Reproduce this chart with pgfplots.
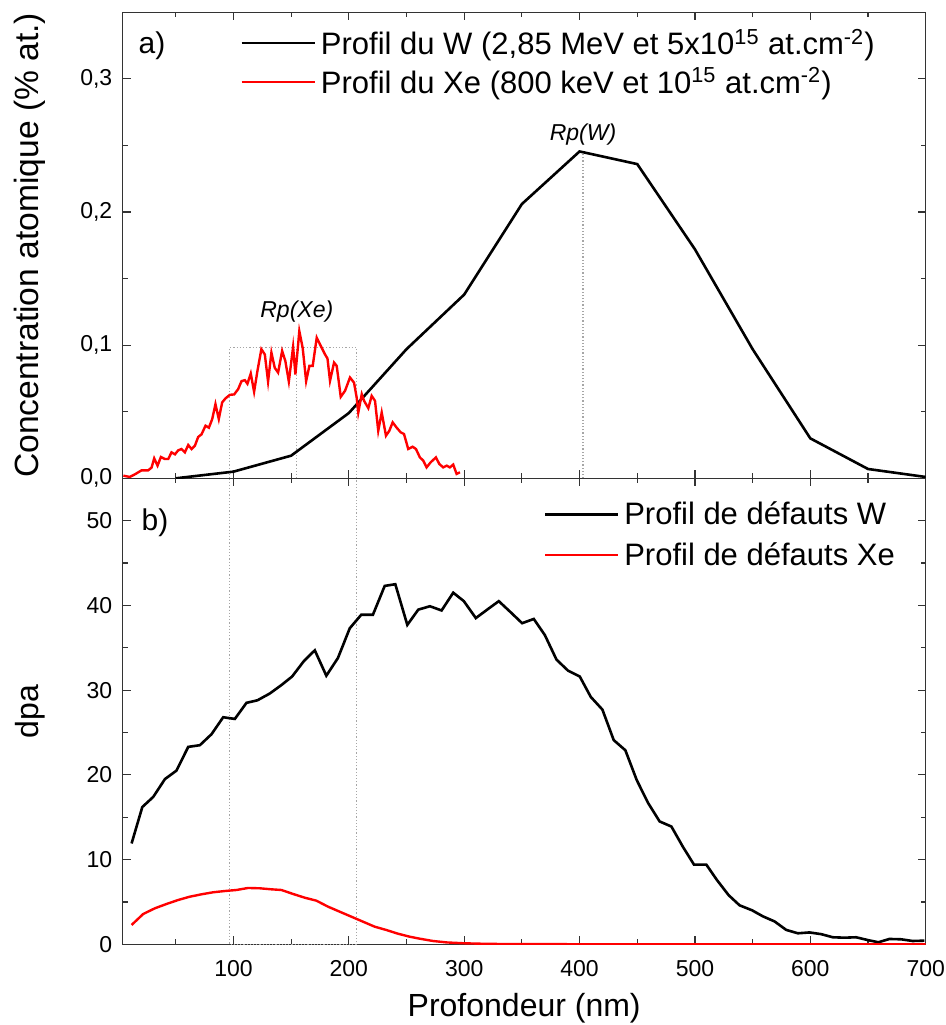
\documentclass[border=0pt]{standalone}
\usepackage{fontspec}
\setmainfont{Liberation Sans}
\usepackage{pgfplots}
\pgfplotsset{compat=1.18}
\begin{document}
\begin{tikzpicture}
\useasboundingbox (-61.35pt,-40.35pt) rectangle (411.65pt,472.15pt);
\pgfplotsset{
 every axis/.append style={
  scale only axis, width=401.5pt, height=233pt,
  xmin=4, xmax=700,
  tick align=inside,
  axis line style={line width=0.7pt, black!80},
  every tick/.style={black!80, line width=0.6pt},
  major tick length=4pt, minor tick length=2.5pt,
  xtick={100,200,...,700}, minor xtick={50,150,...,650},
  tick label style={font=\fontsize{11.5}{13}\selectfont},
  /pgf/number format/assume math mode=true,
  label style={font=\fontsize{16}{19}\selectfont},
  ylabel style={at={(axis description cs:-0.1154,0.5)}, anchor=center},
  yticklabel style={xshift=-1.7pt},
  legend cell align=left,
  legend style={draw=none, fill=none, font=\fontsize{15.5}{18}\selectfont, inner sep=0pt, anchor=north west, nodes={inner sep=2.5pt}},
  legend image code/.code={\draw[#1] (0pt,0pt) -- (36.5pt,0pt);},
 }
}
\begin{axis}[name=bot, at={(0,0)}, anchor=south west,
  ymin=0, ymax=55, ytick={0,10,...,50}, minor ytick={5,15,...,55},
  xlabel={Profondeur (nm)}, ylabel={dpa},
  xlabel style={at={(axis description cs:0.5,-0.137)}, anchor=center},
  xticklabel style={yshift=-4.4pt},
  legend style={at={(axis description cs:0.5238,0.962)}, row sep=2.5pt}]
\addplot[gray!70, densely dotted, line width=0.6pt, forget plot] coordinates {(96.5,55) (96.5,0) (206.8,0) (206.8,55)};
\addplot[black, line width=1.3pt] table {
11.7 11.9
21 16.2
30.5 17.4
40.6 19.5
50.6 20.5
60.8 23.3
70.9 23.5
81 24.8
91.1 26.8
101.2 26.6
111.3 28.5
120.8 28.8
131.5 29.6
141.6 30.6
150.8 31.6
160.9 33.4
170.5 34.7
180.5 31.7
190.6 33.8
200.8 37.3
210.8 38.9
220.9 38.9
231.1 42.3
240.3 42.5
250.7 37.7
260.2 39.5
270.3 39.9
280.4 39.4
290.5 41.5
299.7 40.5
310.1 38.5
319.9 39.5
330 40.5
340.2 39.2
350.2 37.9
360.3 38.4
369.9 36.5
380 33.6
390 32.3
400.2 31.6
409.7 29.2
419.8 27.7
429.6 24.1
439.7 22.9
449.5 19.4
459.3 16.7
469.4 14.5
479.6 13.9
489.6 11.5
499.2 9.4
509.9 9.4
519 7.6
529.2 5.8
538.7 4.6
549.7 4.0
558.9 3.3
569 2.7
579.1 1.7
589.2 1.3
599.3 1.4
609.4 1.2
619.5 0.83
629.6 0.78
639.7 0.83
649.8 0.5
659 0.24
668.6 0.63
678.7 0.59
688.7 0.39
698.9 0.43
};
\addlegendentry{Profil de défauts W}
\addplot[red, line width=1.2pt] table {
11.7 2.28
21.8 3.58
31.9 4.25
42 4.76
52.1 5.23
62.2 5.62
72.3 5.9
82.4 6.14
92.6 6.29
102.6 6.41
112.7 6.65
122.9 6.61
132.9 6.49
141.6 6.41
151.7 5.94
161.8 5.5
171.9 5.15
182 4.44
192.1 3.85
202.2 3.26
212.3 2.67
222.4 2.08
232.5 1.69
242.6 1.25
252.7 0.9
262 0.65
273 0.39
285 0.22
300 0.12
320 0.05
350 0.02
400 0.01
450 0
700 0
};
\addlegendentry{Profil de défauts Xe}
\node[font=\fontsize{15}{18}\selectfont] at (axis description cs:0.0403,0.904) {b)};
\end{axis}
\begin{axis}[name=top, at={(bot.north west)}, anchor=south west,
  ymin=0, ymax=0.35, ytick={0,0.1,0.2,0.3}, minor ytick={0.05,0.15,0.25,0.35},
  xticklabels={},
  ylabel={Concentration atomique (\% at.)},
  ylabel style={font=\fontsize{16.8}{19}\selectfont},
  yticklabel style={/pgf/number format/.cd, use comma, fixed, fixed zerofill, precision=1},
  legend style={at={(axis description cs:0.146,0.976)}, row sep=0pt}]
\addplot[gray!70, densely dotted, line width=0.6pt, forget plot] coordinates {(96.5,0) (96.5,0.098) (206.8,0.098) (206.8,0)};
\addplot[gray!70, densely dotted, line width=0.6pt, forget plot] coordinates {(154.4,0) (154.4,0.098)};
\addplot[gray!70, densely dotted, line width=0.6pt, forget plot] coordinates {(403,0) (403,0.2455)};
\addplot[black, line width=1.3pt] table {
50 0
100 0.005
150 0.017
200 0.049
250 0.097
300 0.138
350 0.206
400 0.2455
450 0.236
500 0.172
550 0.097
600 0.030
650 0.007
700 0.001
};
\addlegendentry{Profil du W (2,85 MeV et 5x10\textsuperscript{15} at.cm\textsuperscript{-2})}
\addplot[red, line width=1.2pt] table {
4.6 0.002
10.1 0.001
14.6 0.003
20.4 0.006
26.1 0.006
29 0.008
31.3 0.015
34.2 0.0095
37.1 0.016
40.6 0.0145
43.5 0.0145
46.3 0.0195
49.3 0.018
52.1 0.021
55 0.022
57.9 0.0195
60.8 0.025
63.7 0.022
66.6 0.0245
69.4 0.031
72.3 0.033
75.8 0.0395
78.7 0.038
81.6 0.0445
84.4 0.0557
87.3 0.0445
90.2 0.057
93.1 0.060
96.9 0.0627
100.6 0.063
104.1 0.067
107 0.073
109.9 0.0737
112.1 0.071
115 0.0787
117.9 0.065
120.8 0.0807
124.2 0.097
127.2 0.093
130 0.0727
132.9 0.0944
135.8 0.083
138.7 0.0794
142.2 0.0957
145 0.088
148 0.0727
151.7 0.0987
153.7 0.078
157.1 0.1106
160 0.098
163 0.073
165.8 0.0844
168.7 0.0844
172.2 0.1056
175.7 0.0994
179.4 0.093
181.5 0.090
183.7 0.0732
187.2 0.0869
189.5 0.0844
193 0.0612
196.7 0.0657
201 0.0757
204.5 0.0719
206.8 0.0607
208.2 0.0494
211.2 0.0632
213.2 0.0582
216.9 0.0527
219.8 0.0619
222.7 0.0582
225.5 0.0357
228.5 0.0494
232.2 0.032
235.1 0.0357
238 0.042
241.5 0.038
245 0.0345
247.8 0.0333
251.5 0.022
255.3 0.0237
258.2 0.022
261.6 0.0157
264.5 0.0133
267.4 0.0082
270.9 0.012
275.5 0.0157
278.4 0.0108
281.8 0.0082
284.8 0.0095
287.6 0.0082
290.5 0.0103
293.4 0.0033
296.3 0.0045
};
\addlegendentry{Profil du Xe (800 keV et 10\textsuperscript{15} at.cm\textsuperscript{-2})}
\node[font=\fontsize{15}{18}\selectfont] at (axis description cs:0.0365,0.9285) {a)};
\node[font=\itshape\fontsize{11.5}{13}\selectfont] at (axis cs:403,0.258) {Rp(W)};
\node[font=\itshape\fontsize{11.5}{13}\selectfont] at (axis cs:154.9,0.1256) {Rp(Xe)};
\end{axis}
\end{tikzpicture}
\end{document}
